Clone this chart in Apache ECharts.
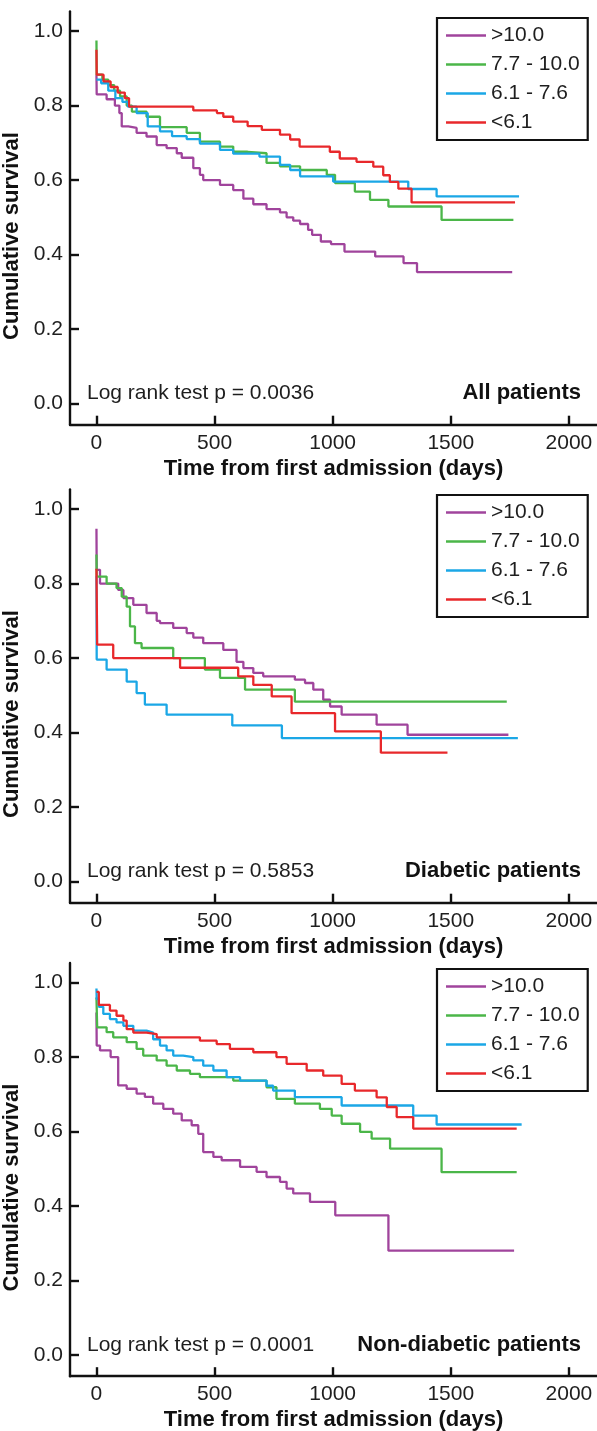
<!DOCTYPE html>
<html>
<head>
<meta charset="utf-8">
<script src="https://cdn.jsdelivr.net/npm/echarts@6/dist/echarts.min.js"></script>
<style>
  html, body { margin: 0; padding: 0; background: #fff; }
  #chart { width: 597px; height: 1431px; }
</style>
</head>
<body>
<div id="chart"></div>
<script>
// ---------- data ----------
const groups = ['>10.0', '7.7 - 10.0', '6.1 - 7.6', '<6.1'];
const groupColors = ['#a0449c', '#4bb649', '#1ba7e6', '#e8282b'];
const xTicks = [0, 500, 1000, 1500, 2000];
const yTicks = [0, 0.2, 0.4, 0.6, 0.8, 1.0];
const panelNames = ['All patients', 'Diabetic patients', 'Non-diabetic patients'];
const logRankP = ['0.0036', '0.5853', '0.0001'];
const xTitle = 'Time from first admission (days)';
const yTitle = 'Cumulative survival';

// Panel 1: all patients  [day, survival]
const allGt10 = [[0,0.883],[1,0.83],[43,0.817],[78,0.80],[97,0.78],[107,0.744],[135,0.74],[170,0.727],[212,0.717],[255,0.694],[297,0.686],[340,0.672],[361,0.66],[410,0.632],[438,0.614],[452,0.60],[523,0.587],[579,0.573],[622,0.55],[664,0.535],[720,0.522],[777,0.513],[805,0.50],[833,0.491],[862,0.482],[896,0.466],[913,0.453],[950,0.435],[993,0.428],[1050,0.408],[1180,0.395],[1300,0.377],[1357,0.353],[1760,0.353]];
const all77 = [[0,0.975],[1,0.883],[25,0.87],[50,0.855],[75,0.84],[100,0.825],[128,0.80],[150,0.784],[212,0.77],[269,0.742],[382,0.727],[438,0.703],[523,0.69],[579,0.676],[640,0.672],[720,0.646],[777,0.637],[862,0.627],[975,0.614],[1010,0.592],[1094,0.569],[1158,0.547],[1236,0.529],[1461,0.493],[1765,0.493]];
const all61 = [[0,0.87],[20,0.86],[50,0.84],[80,0.82],[110,0.81],[133,0.797],[170,0.78],[217,0.744],[269,0.731],[320,0.718],[382,0.71],[438,0.698],[523,0.681],[579,0.671],[690,0.663],[777,0.641],[820,0.627],[862,0.61],[1002,0.596],[1320,0.576],[1440,0.556],[1789,0.556]];
const allLt61 = [[0,0.95],[1,0.883],[30,0.865],[60,0.85],[90,0.835],[120,0.82],[138,0.797],[410,0.787],[510,0.78],[537,0.77],[579,0.757],[640,0.745],[700,0.735],[777,0.722],[820,0.709],[860,0.69],[988,0.676],[1030,0.658],[1101,0.649],[1172,0.636],[1214,0.613],[1242,0.595],[1278,0.577],[1334,0.54],[1772,0.54]];

// Panel 2: diabetic patients
const diaGt10 = [[0,0.947],[1,0.837],[15,0.80],[92,0.783],[114,0.761],[156,0.743],[212,0.721],[255,0.70],[269,0.694],[325,0.681],[382,0.667],[410,0.655],[452,0.64],[537,0.622],[593,0.59],[622,0.573],[664,0.56],[706,0.551],[840,0.542],[883,0.533],[918,0.515],[960,0.488],[989,0.47],[1038,0.448],[1186,0.421],[1317,0.394],[1744,0.394]];
const dia77 = [[0,0.878],[1,0.819],[43,0.80],[85,0.788],[107,0.765],[128,0.738],[142,0.685],[163,0.64],[191,0.627],[325,0.60],[459,0.569],[523,0.547],[629,0.515],[840,0.483],[1737,0.483]];
const dia61 = [[0,0.82],[1,0.596],[43,0.569],[128,0.537],[170,0.506],[205,0.475],[297,0.448],[575,0.419],[785,0.385],[1784,0.385]];
const diaLt61 = [[0,0.84],[3,0.636],[71,0.60],[354,0.574],[600,0.551],[664,0.528],[742,0.497],[826,0.452],[1010,0.403],[1204,0.346],[1486,0.346]];

// Panel 3: non-diabetic patients
const nonGt10 = [[0,0.92],[1,0.831],[15,0.818],[60,0.80],[92,0.724],[128,0.715],[170,0.702],[205,0.693],[240,0.675],[283,0.661],[325,0.648],[361,0.63],[403,0.617],[431,0.594],[452,0.545],[495,0.532],[530,0.523],[608,0.505],[678,0.492],[720,0.478],[777,0.465],[805,0.447],[833,0.434],[904,0.411],[1011,0.375],[1236,0.28],[1768,0.28]];
const non77 = [[0,0.96],[3,0.88],[43,0.867],[71,0.853],[128,0.84],[170,0.822],[198,0.804],[255,0.791],[297,0.777],[340,0.764],[396,0.755],[438,0.746],[579,0.737],[720,0.719],[762,0.688],[840,0.675],[946,0.661],[996,0.643],[1038,0.621],[1116,0.599],[1165,0.581],[1243,0.554],[1461,0.491],[1779,0.491]];
const non61 = [[0,0.984],[1,0.956],[10,0.935],[29,0.916],[57,0.902],[85,0.893],[114,0.884],[156,0.871],[212,0.866],[240,0.848],[269,0.831],[297,0.818],[325,0.804],[367,0.80],[410,0.791],[452,0.777],[495,0.764],[551,0.746],[608,0.737],[720,0.723],[748,0.71],[840,0.6925],[1038,0.67],[1341,0.643],[1440,0.619],[1800,0.619]];
const nonLt61 = [[0,0.975],[10,0.94],[57,0.925],[85,0.911],[114,0.898],[128,0.875],[156,0.866],[212,0.862],[255,0.853],[438,0.844],[509,0.835],[565,0.822],[664,0.813],[762,0.80],[805,0.782],[890,0.764],[960,0.75],[1038,0.728],[1094,0.71],[1186,0.692],[1229,0.666],[1271,0.639],[1341,0.608],[1779,0.608]];

const panelData = [
  [allGt10, all77, all61, allLt61],
  [diaGt10, dia77, dia61, diaLt61],
  [nonGt10, non77, non61, nonLt61]
];

// ---------- layout ----------
const FONT = '"Liberation Sans", Arial, sans-serif';
const TXT = '#1e1e1e';
const gridTops = [11.4, 489.4, 962.9];
const gridH = 413.3;
const gridLeft = 70;
const gridW = 527;
const xMin = -112, xMax = 2119;
const yMin = -0.057, yMax = 1.053;
const zeroY = [403.5, 881.5, 1355];
const legendTops = [18, 495, 969];

const grids = [], xAxes = [], yAxes = [], series = [], legends = [], graphics = [];

for (let p = 0; p < 3; p++) {
  grids.push({ left: gridLeft, top: gridTops[p], width: gridW, height: gridH, containLabel: false, outerBoundsMode: 'none' });
  xAxes.push({
    type: 'value', gridIndex: p, min: xMin, max: xMax,
    axisLine: { show: true, onZero: false, lineStyle: { color: '#111', width: 2.4 } },
    axisTick: { show: true, inside: true, length: 9, customValues: xTicks, lineStyle: { color: '#111', width: 2.4 } },
    axisLabel: { show: true, customValues: xTicks, margin: 8, fontFamily: FONT, fontSize: 21, color: TXT,
                 formatter: v => String(v) },
    splitLine: { show: false },
    name: xTitle, nameLocation: 'middle', nameGap: 33,
    nameTextStyle: { fontFamily: FONT, fontWeight: 'bold', fontSize: 22, color: '#111' }
  });
  yAxes.push({
    type: 'value', gridIndex: p, min: yMin, max: yMax,
    axisLine: { show: true, onZero: false, lineStyle: { color: '#111', width: 2.4 } },
    axisTick: { show: true, inside: true, length: 9, customValues: yTicks, lineStyle: { color: '#111', width: 2.4 } },
    axisLabel: { show: true, customValues: yTicks, margin: 7, fontFamily: FONT, fontSize: 21, color: TXT,
                 formatter: v => v.toFixed(1) },
    splitLine: { show: false },
    name: yTitle, nameLocation: 'middle', nameGap: 37, nameRotate: 90,
    nameTextStyle: { fontFamily: FONT, fontWeight: 'bold', fontSize: 22, color: '#111', padding: [0, 36, 0, 0] }
  });
  groups.forEach((g, i) => {
    series.push({
      name: g, type: 'line', step: 'end', xAxisIndex: p, yAxisIndex: p,
      data: panelData[p][i], symbol: 'none', showSymbol: false,
      lineStyle: { color: groupColors[i], width: 2.3 }, itemStyle: { color: groupColors[i] },
      emphasis: { disabled: true }, animation: false
    });
  });
  legends.push({
    data: groups.map(g => ({ name: g, icon: 'rect' })),
    orient: 'vertical', left: 437, top: legendTops[p],
    itemWidth: 40, itemHeight: 2.5, itemGap: 8,
    padding: [7, 8, 7, 9], borderColor: '#111', borderWidth: 2.2,
    textStyle: { fontFamily: FONT, fontSize: 21, color: TXT, lineHeight: 20 },
    selectedMode: false
  });
  graphics.push({
    type: 'text', left: 87, top: zeroY[p] - 9.5 - 11,
    style: { text: 'Log rank test p = ' + logRankP[p], font: '21px ' + FONT, fill: TXT }
  });
  graphics.push({
    type: 'text', right: 597 - 581, top: zeroY[p] - 9.5 - 12,
    style: { text: panelNames[p], font: 'bold 22px ' + FONT, fill: '#111' }
  });
}

const chart = echarts.init(document.getElementById('chart'), null, { renderer: 'canvas' });
chart.setOption({
  backgroundColor: '#fff',
  animation: false,
  grid: grids, xAxis: xAxes, yAxis: yAxes,
  legend: legends, series: series, graphic: graphics
});
</script>
</body>
</html>
